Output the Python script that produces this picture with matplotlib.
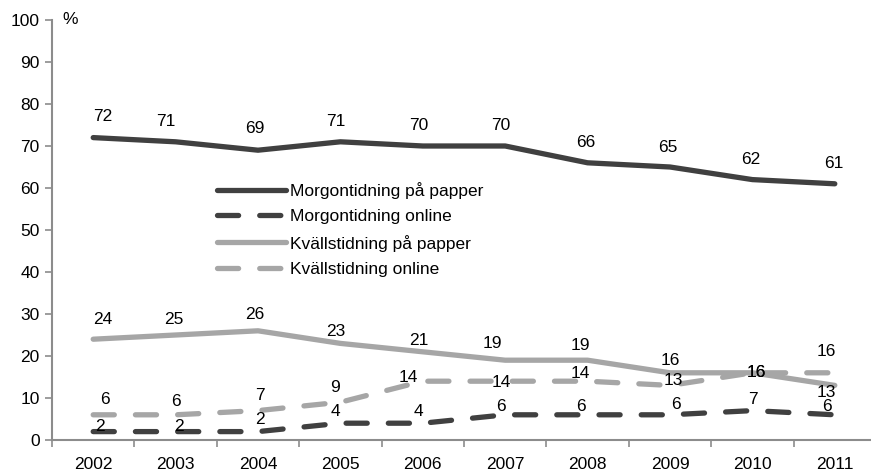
import matplotlib
matplotlib.use("Agg")
import matplotlib.pyplot as plt
import numpy as np

plt.rcParams["font.family"] = ["Liberation Sans", "DejaVu Sans"]
plt.rcParams["font.size"] = 12.5

years = ["2002", "2003", "2004", "2005", "2006", "2007", "2008", "2009", "2010", "2011"]
morgon_papper = [72, 71, 69, 71, 70, 70, 66, 65, 62, 61]
morgon_online = [2, 2, 2, 4, 4, 6, 6, 6, 7, 6]
kvall_papper = [24, 25, 26, 23, 21, 19, 19, 16, 16, 13]
kvall_online = [6, 6, 7, 9, 14, 14, 14, 13, 16, 16]

DARK, LIGHT, AXC = "#404040", "#a6a6a6", "#8c8c8c"

# etikett-förskjutningar i pixlar (dx, dy), handplacerade som i originalet
off_mp = [(10, 21), (-10, 20), (-3, 22), (-5, 20), (-4, 20), (-4, 20), (-2, 20), (-2, 20), (-2, 20), (-1, 20)]
off_mo = [(7, 5), (3, 5), (2, 12), (-5, 12), (-4, 12), (-4, 8), (-7, 8), (6, 10), (1, 11), (-8, 8)]
off_kp = [(10, 20), (-2, 16), (-3, 16), (-5, 12), (-4, 11), (-13, 17), (-7, 15), (0, 12), (4, 0), (-8, -7)]
off_ko = [(12, 15), (0, 13), (2, 15), (-5, 15), (-14, 4), (-4, -1), (-7, 8), (3, 5), (4, 0), (-8, 21)]

series = [
    ("Morgontidning på papper", morgon_papper, DARK, "-", off_mp),
    ("Morgontidning online", morgon_online, DARK, (0, (4, 4)), off_mo),
    ("Kvällstidning på papper", kvall_papper, LIGHT, "-", off_kp),
    ("Kvällstidning online", kvall_online, LIGHT, (0, (4, 4)), off_ko),
]

fig = plt.figure(figsize=(8.71, 4.73), dpi=100)
ax = fig.add_axes([52 / 871, 33 / 473, 824 / 871, 420 / 473])
x = np.arange(len(years))

for name, vals, col, ls, offs in series:
    ax.plot(x, vals, color=col, ls=ls, lw=3.8, label=name,
            solid_capstyle="round", dash_capstyle="round")
    for xi, v, (dx, dy) in zip(x, vals, offs):
        ax.annotate(str(v), (xi, v), xytext=(dx, dy), textcoords="offset pixels",
                    ha="center", va="center", color="black")

ax.set_xlim(-0.5, 9.5)
ax.set_ylim(0, 100)
ax.set_yticks(np.arange(0, 101, 10))
ax.set_xticks(x)
ax.set_xticklabels(years)
ax.set_xticks(np.arange(-0.5, 10, 1), minor=True)
ax.tick_params(axis="x", which="major", length=0, pad=12)
ax.tick_params(axis="x", which="minor", length=5, color=AXC, width=1.2)
ax.tick_params(axis="y", length=5, color=AXC, width=1.2, pad=4)
for s in ["top", "right"]:
    ax.spines[s].set_visible(False)
for s in ["left", "bottom"]:
    ax.spines[s].set_color(AXC)
    ax.spines[s].set_linewidth(1.5)

fig.text(70 / 871, 1 - 20 / 473, "%", ha="center", va="center")

fig.legend(loc="upper left", bbox_to_anchor=(208 / 871, 1 - 173 / 473), frameon=False,
           handlelength=4.0, handletextpad=0.25, labelspacing=0.6, borderpad=0)

fig.savefig("out.png", dpi=100)
